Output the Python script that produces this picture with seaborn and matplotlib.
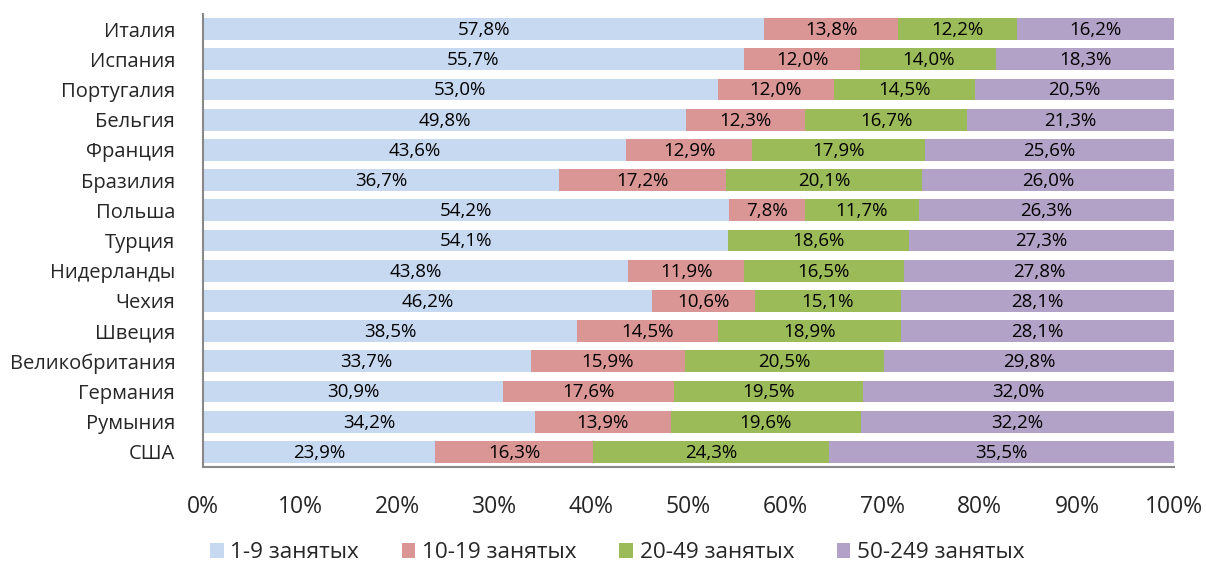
import numpy as np
import pandas as pd
import matplotlib
matplotlib.use("Agg")
import matplotlib.pyplot as plt
import seaborn as sns
from matplotlib.patches import Patch

countries = ["Италия", "Испания", "Португалия", "Бельгия", "Франция", "Бразилия", "Польша",
             "Турция", "Нидерланды", "Чехия", "Швеция", "Великобритания", "Германия", "Румыния", "США"]
s1_9 = [57.8, 55.7, 53.0, 49.8, 43.6, 36.7, 54.2, 54.1, 43.8, 46.2, 38.5, 33.7, 30.9, 34.2, 23.9]
s10_19 = [13.8, 12.0, 12.0, 12.3, 12.9, 17.2, 7.8, 0.0, 11.9, 10.6, 14.5, 15.9, 17.6, 13.9, 16.3]
s20_49 = [12.2, 14.0, 14.5, 16.7, 17.9, 20.1, 11.7, 18.6, 16.5, 15.1, 18.9, 20.5, 19.5, 19.6, 24.3]
s50_249 = [16.2, 18.3, 20.5, 21.3, 25.6, 26.0, 26.3, 27.3, 27.8, 28.1, 28.1, 29.8, 32.0, 32.2, 35.5]
series_names = ["1-9 занятых", "10-19 занятых", "20-49 занятых", "50-249 занятых"]
colors = ["#C6D9F1", "#D99694", "#9BBB59", "#B3A2C7"]
xticks = [0, 10, 20, 30, 40, 50, 60, 70, 80, 90, 100]

sns.set_theme(style="white")
plt.rcParams['font.family'] = ['Open Sans', 'DejaVu Sans']

vals = np.array([s1_9, s10_19, s20_49, s50_249])
cum = np.cumsum(vals, axis=0)
cum = cum / cum[-1] * 100.0

fig = plt.figure(figsize=(12.06, 5.67), dpi=100)
ax = fig.add_axes([203/1206, 1 - 467/567, (1174-203)/1206, (467-14)/567])

for i in range(3, -1, -1):
    df = pd.DataFrame({"country": countries, "v": cum[i]})
    sns.barplot(data=df, x="v", y="country", color=colors[i], saturation=1, width=0.72,
                orient="h", ax=ax, linewidth=0)

for i in range(4):
    starts = cum[i] - vals[i] / vals.sum(axis=0) * 100
    for j, c in enumerate(countries):
        v = vals[i][j]
        if v <= 0:
            continue
        xc = (starts[j] + cum[i][j]) / 2
        ax.text(xc, j + 0.03, f"{v:.1f}%".replace(".", ","), ha="center", va="center",
                fontsize=13.5, color="black")

ax.set_xlim(0, 100)
ax.set_ylim(14.5, -0.5)
ax.set_xticks(xticks)
ax.set_xticklabels([f"{t}%" for t in xticks], fontsize=16.5)
ax.tick_params(axis="x", direction="out", length=6, width=1.5, color="#888888", pad=14)
ax.tick_params(axis="y", length=0, labelsize=14.5, pad=20)
ax.set_xlabel("")
ax.set_ylabel("")
for s in ["top", "right"]:
    ax.spines[s].set_visible(False)
for s in ["left", "bottom"]:
    ax.spines[s].set_color("#888888")
    ax.spines[s].set_linewidth(1.5)

handles = [Patch(facecolor=colors[i], edgecolor="none") for i in range(4)]
fig.legend(handles, series_names, loc="center", bbox_to_anchor=(0.512, 1 - 553/567), ncol=4,
           frameon=False, fontsize=16.2, handlelength=0.6, handleheight=0.6, handletextpad=0.3,
           columnspacing=1.9)

fig.savefig("out.png", dpi=100)
